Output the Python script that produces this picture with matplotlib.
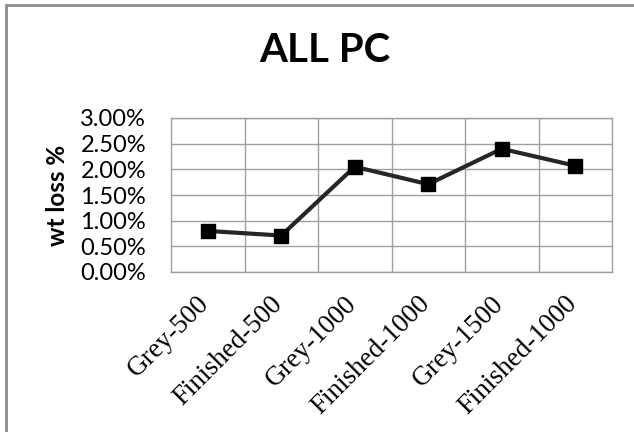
import matplotlib.pyplot as plt
from matplotlib.ticker import FuncFormatter, MultipleLocator
from matplotlib.patches import Rectangle

# weight loss per sample
categories = ["Grey-500", "Finished-500", "Grey-1000", "Finished-1000", "Grey-1500", "Finished-1000"]
wt_loss = [0.0080, 0.0071, 0.0205, 0.0171, 0.0240, 0.0207]

fig = plt.figure(figsize=(6.34, 4.32), dpi=100)
ax_w = (612 - 171) / 634
ax = fig.add_axes([171 / 634, 1 - 272 / 432, ax_w, (272 - 118) / 432])

x = list(range(len(categories)))
ax.plot(x, wt_loss, color="#262626", lw=3, marker="s", markersize=9.5,
        markerfacecolor="black", markeredgecolor="black", zorder=3)

ax.set_xlim(-0.5, len(categories) - 0.5)
ax.set_ylim(0, 0.03)
ax.yaxis.set_major_locator(MultipleLocator(0.005))
ax.yaxis.set_major_formatter(FuncFormatter(lambda v, p: f"{v * 100:.2f}%"))

# gridlines sit between categories, like excel
ax.set_xticks([i + 0.5 for i in x[:-1]], minor=True)
# rotated labels hang down-left; nudge the (invisible) ticks ~11px left so
# the label ends line up under each point
nudge = 11 / (ax_w * 634 / len(categories))
ax.set_xticks([i - nudge for i in x])
ax.set_xticklabels(categories, rotation=45, ha="right", va="top",
                   rotation_mode="anchor", family="Liberation Serif", fontsize=19.5)
ax.grid(which="minor", axis="x", color="#a0a0a0", lw=1)
ax.grid(which="major", axis="y", color="#a0a0a0", lw=1)
ax.tick_params(which="both", length=0)
ax.tick_params(axis="x", pad=14)
ax.tick_params(axis="y", pad=18, labelsize=17)
for lab in ax.get_yticklabels():
    lab.set_family("Lato")
for s in ax.spines.values():
    s.set_color("#a0a0a0")
    s.set_linewidth(1)

ax.set_ylabel("wt loss %", family="Lato", fontweight="bold", fontsize=17.5, labelpad=8)
fig.text(325 / 634, 1 - 50 / 432, "ALL PC", ha="center", va="center",
         family="Lato", fontweight="bold", fontsize=29)

# chart border
fig.patches.append(Rectangle((5.5 / 634, -0.1), 1.2, 1.1 - 5.5 / 432, transform=fig.transFigure,
                             fill=False, edgecolor="#8c8c8c", lw=2))

fig.savefig("out.png", dpi=100)
